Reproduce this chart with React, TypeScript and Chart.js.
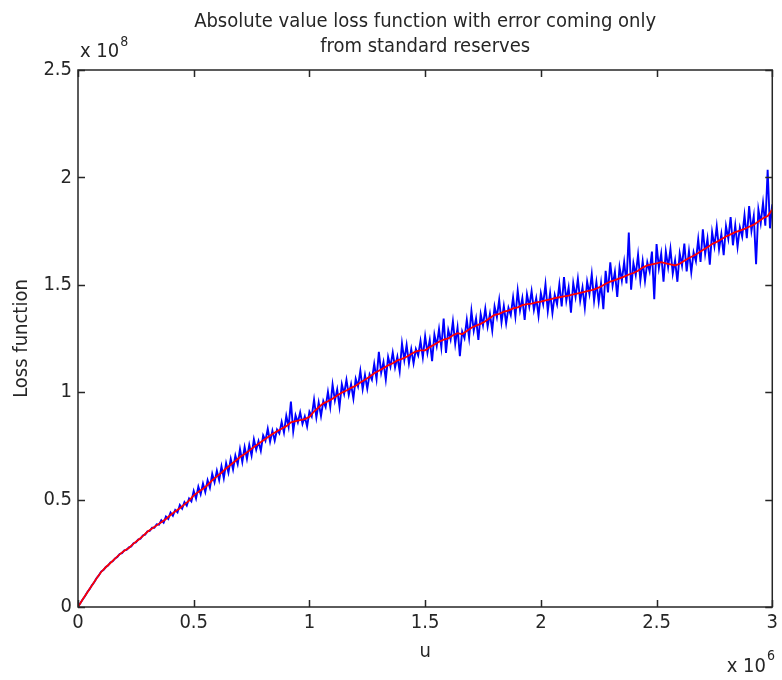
import React, { useEffect, useRef } from "react";
import { Chart, registerables } from "chart.js";

Chart.register(...registerables);

// ---- data (u in units of 1e6, loss in units of 1e8) ----
const TITLE_LINES = ["Absolute value loss function with error coming only", "from standard reserves"];
const X_LABEL = "u";
const Y_LABEL = "Loss function";
const X_EXP = "6";
const Y_EXP = "8";

const X_TICKS = [0, 0.5, 1, 1.5, 2, 2.5, 3];
const Y_TICKS = [0, 0.5, 1, 1.5, 2, 2.5];

const BLUE_STEP = 0.01; // sample spacing of the noisy series (x 1e6)
const RED_STEP = 0.02; // sample spacing of the smoothed series (x 1e6)

const blueValues = [
  0.000, 0.018, 0.035, 0.050, 0.069, 0.083, 0.101, 0.115, 0.134, 0.147, 0.165, 0.172, 0.186, 0.193, 0.207, 0.213,
  0.226, 0.233, 0.247, 0.251, 0.264, 0.266, 0.278, 0.282, 0.297, 0.301, 0.314, 0.318, 0.333, 0.337, 0.352, 0.354,
  0.369, 0.369, 0.385, 0.383,
  0.404, 0.392, 0.421, 0.410, 0.440, 0.425, 0.452, 0.440, 0.475, 0.458, 0.488, 0.472, 0.505, 0.492, 0.540,
  0.505, 0.560, 0.525, 0.575, 0.535, 0.590, 0.555, 0.620, 0.580, 0.635, 0.590, 0.655, 0.600, 0.670, 0.625, 0.690,
  0.640, 0.705, 0.665, 0.735, 0.675, 0.745, 0.690, 0.755, 0.705,
  0.781, 0.732, 0.772, 0.727, 0.799, 0.774, 0.830, 0.769, 0.821, 0.775, 0.826, 0.808, 0.862, 0.812, 0.890, 0.839,
  0.956, 0.818, 0.893, 0.859, 0.906, 0.852, 0.887, 0.840, 0.909,
  0.887, 0.965, 0.882, 0.952, 0.889, 0.959, 0.931, 1.002, 0.931, 1.036,
  0.961, 1.013, 0.932, 1.037, 0.992, 1.058, 0.987, 1.037, 0.970, 1.063,
  1.027, 1.100, 1.014, 1.080, 1.016, 1.083, 1.058, 1.132, 1.061, 1.188,
  1.090, 1.140, 1.059, 1.164, 1.119, 1.185, 1.115, 1.165, 1.097, 1.227,
  1.149, 1.220, 1.134, 1.200, 1.134, 1.201, 1.171, 1.239, 1.162, 1.261,
  1.183, 1.243, 1.145, 1.268, 1.215, 1.294, 1.208, 1.343, 1.183, 1.289,
  1.245, 1.330, 1.225, 1.301, 1.168, 1.283, 1.252, 1.337, 1.253, 1.378,
  1.286, 1.343, 1.243, 1.364, 1.311, 1.389, 1.306, 1.365, 1.287, 1.399,
  1.349, 1.430, 1.325, 1.401, 1.320, 1.393, 1.359, 1.442, 1.353, 1.473,
  1.381, 1.438, 1.337, 1.456, 1.398, 1.471, 1.383, 1.438, 1.355, 1.461,
  1.410, 1.503, 1.378, 1.462, 1.368, 1.453, 1.410, 1.502, 1.399, 1.536,
  1.426, 1.488, 1.370, 1.508, 1.443, 1.528, 1.425, 1.488, 1.393, 1.515,
  1.457, 1.550, 1.426, 1.512, 1.420, 1.507, 1.386, 1.565, 1.465, 1.605,
  1.496, 1.560, 1.444, 1.583, 1.519, 1.606, 1.506, 1.743, 1.477, 1.600,
  1.545, 1.640, 1.520, 1.610, 1.518, 1.605, 1.562, 1.655, 1.433, 1.690,
  1.578, 1.645, 1.514, 1.656, 1.582, 1.667, 1.552, 1.614, 1.514, 1.646,
  1.589, 1.692, 1.562, 1.657, 1.558, 1.651, 1.610, 1.712, 1.607, 1.758,
  1.644, 1.715, 1.594, 1.746, 1.679, 1.772, 1.666, 1.736, 1.638, 1.773,
  1.714, 1.815, 1.684, 1.777, 1.676, 1.768, 1.724, 1.824, 1.717, 1.866,
  1.751, 1.820, 1.596, 1.851, 1.786, 1.882, 1.775, 2.036, 1.763, 1.874,
];

const redValues = [
  0.000, 0.035, 0.068, 0.100, 0.133, 0.163, 0.185, 0.205, 0.225, 0.245,
  0.262, 0.275, 0.295, 0.312, 0.330, 0.350, 0.365, 0.380, 0.395, 0.410,
  0.428, 0.445, 0.460, 0.478, 0.495, 0.520, 0.535, 0.550, 0.568, 0.590,
  0.608, 0.625, 0.645, 0.662, 0.680, 0.698, 0.712, 0.728, 0.745, 0.760,
  0.775, 0.790, 0.805, 0.818, 0.830, 0.842, 0.860, 0.865, 0.870, 0.875,
  0.885, 0.910, 0.930, 0.948, 0.958, 0.970, 0.985, 0.998, 1.008, 1.020,
  1.030, 1.045, 1.058, 1.072, 1.088, 1.100, 1.112, 1.125, 1.135, 1.148,
  1.155, 1.165, 1.178, 1.190, 1.195, 1.195, 1.210, 1.222, 1.235, 1.245,
  1.250, 1.265, 1.275, 1.270, 1.285, 1.300, 1.310, 1.318, 1.330, 1.345,
  1.360, 1.365, 1.375, 1.380, 1.390, 1.395, 1.405, 1.410, 1.412, 1.418,
  1.422, 1.428, 1.432, 1.438, 1.442, 1.446, 1.450, 1.455, 1.460, 1.465,
  1.470, 1.475, 1.482, 1.492, 1.505, 1.515, 1.522, 1.530, 1.538, 1.548,
  1.555, 1.565, 1.580, 1.590, 1.595, 1.600, 1.605, 1.600, 1.595, 1.590,
  1.598, 1.612, 1.625, 1.635, 1.648, 1.662, 1.675, 1.690, 1.700, 1.712,
  1.725, 1.735, 1.745, 1.752, 1.760, 1.770, 1.780, 1.795, 1.810, 1.820,
  1.850,
];

const FONT = "'Liberation Sans Narrow', 'Arial Narrow', 'DejaVu Sans Condensed', 'Liberation Sans', sans-serif";
const TEXT_COLOR = "#262626";
const W = 782;
const H = 680;

const fmt = (v: number) => `${Math.round(v * 10) / 10}`;

const decorPlugin = {
  id: "matlabDecor",
  afterDatasetsDraw(chart: any) {
    const { ctx, chartArea: a, scales } = chart;
    const xs = scales.x;
    const ys = scales.y;
    ctx.save();
    ctx.strokeStyle = TEXT_COLOR;
    ctx.lineWidth = 1.5;
    ctx.strokeRect(a.left, a.top, a.right - a.left, a.bottom - a.top);
    const tl = 7;
    ctx.beginPath();
    X_TICKS.forEach((t) => {
      const px = Math.round(xs.getPixelForValue(t)) + 0.5;
      ctx.moveTo(px, a.bottom);
      ctx.lineTo(px, a.bottom - tl);
      ctx.moveTo(px, a.top);
      ctx.lineTo(px, a.top + tl);
    });
    Y_TICKS.forEach((t) => {
      const py = Math.round(ys.getPixelForValue(t)) + 0.5;
      ctx.moveTo(a.left, py);
      ctx.lineTo(a.left + tl, py);
      ctx.moveTo(a.right, py);
      ctx.lineTo(a.right - tl, py);
    });
    ctx.stroke();
    ctx.restore();
  },
  afterDraw(chart: any) {
    const { ctx, chartArea: a } = chart;
    const cx = (a.left + a.right) / 2;
    ctx.save();
    ctx.fillStyle = TEXT_COLOR;
    ctx.textBaseline = "middle";
    ctx.textAlign = "center";
    ctx.font = `20px ${FONT}`;
    ctx.fillText(TITLE_LINES[0], cx, 22);
    ctx.fillText(TITLE_LINES[1], cx, 47);
    ctx.fillText(X_LABEL, cx, 652);
    ctx.save();
    ctx.translate(22, (a.top + a.bottom) / 2);
    ctx.rotate(-Math.PI / 2);
    ctx.fillText(Y_LABEL, 0, 0);
    ctx.restore();
    ctx.textAlign = "left";
    ctx.font = `20px ${FONT}`;
    const base = "x 10";
    const bw = ctx.measureText(base).width;
    ctx.fillText(base, 80, 52);
    ctx.font = `14px ${FONT}`;
    ctx.fillText(Y_EXP, 80 + bw + 1, 42);
    ctx.font = `14px ${FONT}`;
    const ew = ctx.measureText(X_EXP).width;
    ctx.font = `20px ${FONT}`;
    const xEnd = 775;
    ctx.fillText(base, xEnd - ew - 1 - bw, 667);
    ctx.font = `14px ${FONT}`;
    ctx.fillText(X_EXP, xEnd - ew, 656);
    ctx.restore();
  },
};

export default function App() {
  const ref = useRef<HTMLCanvasElement | null>(null);
  useEffect(() => {
    if (!ref.current) return;
    const blueData = blueValues.map((y, i) => ({ x: i * BLUE_STEP, y }));
    const redData = redValues.map((y, i) => ({ x: i * RED_STEP, y }));
    const chart = new Chart(ref.current, {
      type: "line",
      data: {
        datasets: [
          {
            label: "smoothed",
            data: redData,
            borderColor: "#ff0000",
            borderWidth: 1.8,
            pointRadius: 0,
            tension: 0,
            order: 0,
          },
          {
            label: "loss",
            data: blueData,
            borderColor: "#0000ff",
            borderWidth: 1.9,
            pointRadius: 0,
            tension: 0,
            order: 1,
          },
        ],
      },
      options: {
        animation: false,
        responsive: false,
        maintainAspectRatio: false,
        events: [],
        layout: { padding: { top: 70, right: 5, left: 0, bottom: 0 } },
        plugins: { legend: { display: false }, tooltip: { enabled: false }, title: { display: false } },
        scales: {
          x: {
            type: "linear",
            min: 0,
            max: 3,
            grid: { display: false, drawTicks: false },
            border: { display: false },
            afterBuildTicks: (s: any) => {
              s.ticks = X_TICKS.map((v) => ({ value: v }));
            },
            afterFit: (s: any) => {
              s.height = 73;
            },
            ticks: {
              autoSkip: false,
              maxRotation: 0,
              padding: 4,
              color: TEXT_COLOR,
              font: { family: FONT, size: 20 },
              callback: (v: any) => fmt(Number(v)),
            },
          },
          y: {
            type: "linear",
            min: 0,
            max: 2.5,
            grid: { display: false, drawTicks: false },
            border: { display: false },
            afterBuildTicks: (s: any) => {
              s.ticks = Y_TICKS.map((v) => ({ value: v }));
            },
            afterFit: (s: any) => {
              s.width = 78;
            },
            ticks: {
              autoSkip: false,
              padding: 6,
              color: TEXT_COLOR,
              font: { family: FONT, size: 20 },
              callback: (v: any) => fmt(Number(v)),
            },
          },
        },
      },
      plugins: [decorPlugin],
    });
    return () => chart.destroy();
  }, []);
  return (
    <div style={{ position: "absolute", left: 0, top: 0, width: W, height: H, background: "#fff" }}>
      <canvas ref={ref} width={W} height={H} style={{ width: W, height: H, display: "block" }} />
    </div>
  );
}
